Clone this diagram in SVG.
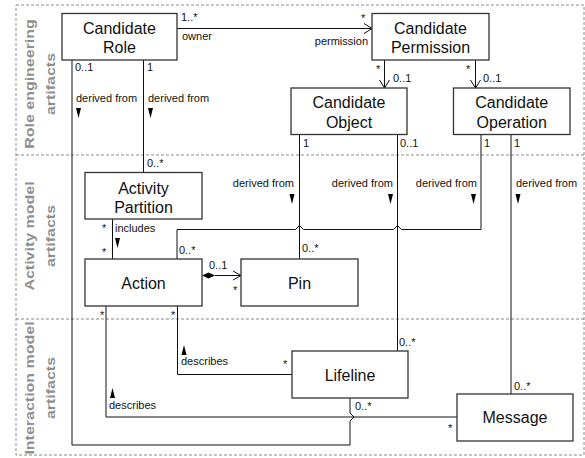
<svg xmlns="http://www.w3.org/2000/svg" width="585" height="458" viewBox="0 0 585 458">
<style>
.lane{fill:none;stroke:#8a8a8a;stroke-width:1;stroke-dasharray:3,2}
.lt{font-family:"Liberation Sans",Arial,sans-serif;font-size:16px;font-weight:bold;fill:#8f8f8f;text-anchor:middle}
.box{fill:#fff;stroke:#333;stroke-width:1.3}
.nt{font-family:"Liberation Sans",Arial,sans-serif;font-size:16px;fill:#111;text-anchor:middle}
.ln{fill:none;stroke:#111;stroke-width:1}
.lb{font-family:"Liberation Sans",Arial,sans-serif;font-size:11px;fill:#111}
.end{text-anchor:end}
.tri{fill:#000}
</style>
<g id="lanes">
<rect class="lane" x="16" y="5" width="568" height="450"/>
<line class="lane" x1="16" y1="155" x2="584" y2="155"/>
<line class="lane" x1="16" y1="319" x2="584" y2="319"/>
<text class="lt" transform="translate(34,84) rotate(-90) scale(1,0.75)">Role engineering</text>
<text class="lt" transform="translate(55,84) rotate(-90) scale(1,0.75)">artifacts</text>
<text class="lt" transform="translate(34,236) rotate(-90) scale(1,0.75)">Activity model</text>
<text class="lt" transform="translate(55,236) rotate(-90) scale(1,0.75)">artifacts</text>
<text class="lt" transform="translate(34,388) rotate(-90) scale(1,0.75)">Interaction model</text>
<text class="lt" transform="translate(55,388) rotate(-90) scale(1,0.75)">artifacts</text>
</g>
<g id="connectors">
<path class="ln" d="M177,28.5 H372 M364,23.5 L372,28.5 L364,33.5"/>
<path class="ln" d="M384.5,60 V88 M379.5,80 L384.5,88 L389.5,80"/>
<path class="ln" d="M475.5,60 V88 M470.5,80 L475.5,88 L480.5,80"/>
<path class="ln" d="M72,60 V445 H350 V421 L354,417 L350,413 V398"/>
<path class="ln" d="M143.5,60 V172"/>
<path class="ln" d="M112.5,219 V259"/>
<path class="ln" d="M215,275.5 H241 M233,271 L241,275.5 L233,280"/>
<polygon points="202,275.5 208.5,272.5 215,275.5 208.5,278.5" fill="#000"/>
<path class="ln" d="M299.5,134 V259"/>
<path class="ln" d="M397.5,134 V351"/>
<path class="ln" d="M481,134 V229.5 H401.5 L397.5,225.5 L393.5,229.5 H303.5 L299.5,225.5 L295.5,229.5 H177 V259"/>
<path class="ln" d="M511,134 V394"/>
<path class="ln" d="M106,306 V417 H457"/>
<path class="ln" d="M177.5,306 V374.5 H292"/>
<polygon class="tri" points="76,108 81,108 78.5,118"/>
<polygon class="tri" points="148,108 153,108 150.5,118"/>
<polygon class="tri" points="115,238 120,238 117.5,248"/>
<polygon class="tri" points="289.5,194 294.5,194 292,204"/>
<polygon class="tri" points="388,194 393,194 390.5,204"/>
<polygon class="tri" points="471,194 476,194 473.5,204"/>
<polygon class="tri" points="515.5,194 520.5,194 518,204"/>
<polygon class="tri" points="110,398 115,398 112.5,388"/>
<polygon class="tri" points="181.5,355 186.5,355 184,345"/>
<text class="lb" x="181" y="21">1..*</text>
<text class="lb" x="182" y="40">owner</text>
<text class="lb" x="361" y="21.5">*</text>
<text class="lb end" x="368" y="45">permission</text>
<text class="lb" x="376" y="73">*</text>
<text class="lb" x="393" y="82">0..1</text>
<text class="lb" x="466" y="73">*</text>
<text class="lb" x="483" y="82">0..1</text>
<text class="lb" x="75" y="71">0..1</text>
<text class="lb" x="76" y="102">derived from</text>
<text class="lb" x="147" y="71">1</text>
<text class="lb" x="148" y="102">derived from</text>
<text class="lb" x="147" y="167">0..*</text>
<text class="lb" x="303" y="147">1</text>
<text class="lb" x="400" y="147">0..1</text>
<text class="lb" x="484" y="147">1</text>
<text class="lb" x="514" y="147">1</text>
<text class="lb end" x="294" y="187">derived from</text>
<text class="lb end" x="393" y="187">derived from</text>
<text class="lb end" x="477" y="187">derived from</text>
<text class="lb" x="516" y="187">derived from</text>
<text class="lb" x="102" y="231.5">*</text>
<text class="lb" x="102" y="255.5">*</text>
<text class="lb" x="115" y="232">includes</text>
<text class="lb" x="179" y="254">0..*</text>
<text class="lb" x="302" y="252">0..*</text>
<text class="lb" x="209" y="269">0..1</text>
<text class="lb" x="233" y="294">*</text>
<text class="lb" x="100" y="319">*</text>
<text class="lb" x="171" y="319">*</text>
<text class="lb" x="181" y="365">describes</text>
<text class="lb" x="109" y="409">describes</text>
<text class="lb" x="283" y="367.5">*</text>
<text class="lb" x="399" y="346">0..*</text>
<text class="lb" x="355" y="410">0..*</text>
<text class="lb" x="514" y="390">0..*</text>
<text class="lb" x="448" y="431.5">*</text>
</g>
<g id="candidate-role">
<rect class="box" x="62" y="13.5" width="115" height="46.5"/>
<text class="nt" x="119.5" y="33.5">Candidate</text>
<text class="nt" x="119.5" y="53">Role</text>
</g>
<g id="candidate-permission">
<rect class="box" x="372" y="13.5" width="117" height="46.5"/>
<text class="nt" x="430.5" y="33.5">Candidate</text>
<text class="nt" x="430.5" y="53">Permission</text>
</g>
<g id="candidate-object">
<rect class="box" x="291" y="88" width="116" height="46.5"/>
<text class="nt" x="349" y="108">Candidate</text>
<text class="nt" x="349" y="127.5">Object</text>
</g>
<g id="candidate-operation">
<rect class="box" x="453.5" y="88" width="116.5" height="46.5"/>
<text class="nt" x="511.7" y="108">Candidate</text>
<text class="nt" x="511.7" y="127.5">Operation</text>
</g>
<g id="activity-partition">
<rect class="box" x="85" y="172.5" width="117" height="46.5"/>
<text class="nt" x="143.5" y="193.5">Activity</text>
<text class="nt" x="143.5" y="212.5">Partition</text>
</g>
<g id="action">
<rect class="box" x="85" y="259" width="117" height="47"/>
<text class="nt" x="143.5" y="288.5">Action</text>
</g>
<g id="pin">
<rect class="box" x="241" y="259" width="117" height="47"/>
<text class="nt" x="299.5" y="288.5">Pin</text>
</g>
<g id="lifeline">
<rect class="box" x="292" y="351" width="116" height="47"/>
<text class="nt" x="350" y="380.5">Lifeline</text>
</g>
<g id="message">
<rect class="box" x="457" y="394" width="116" height="47"/>
<text class="nt" x="515" y="423">Message</text>
</g>
</svg>
